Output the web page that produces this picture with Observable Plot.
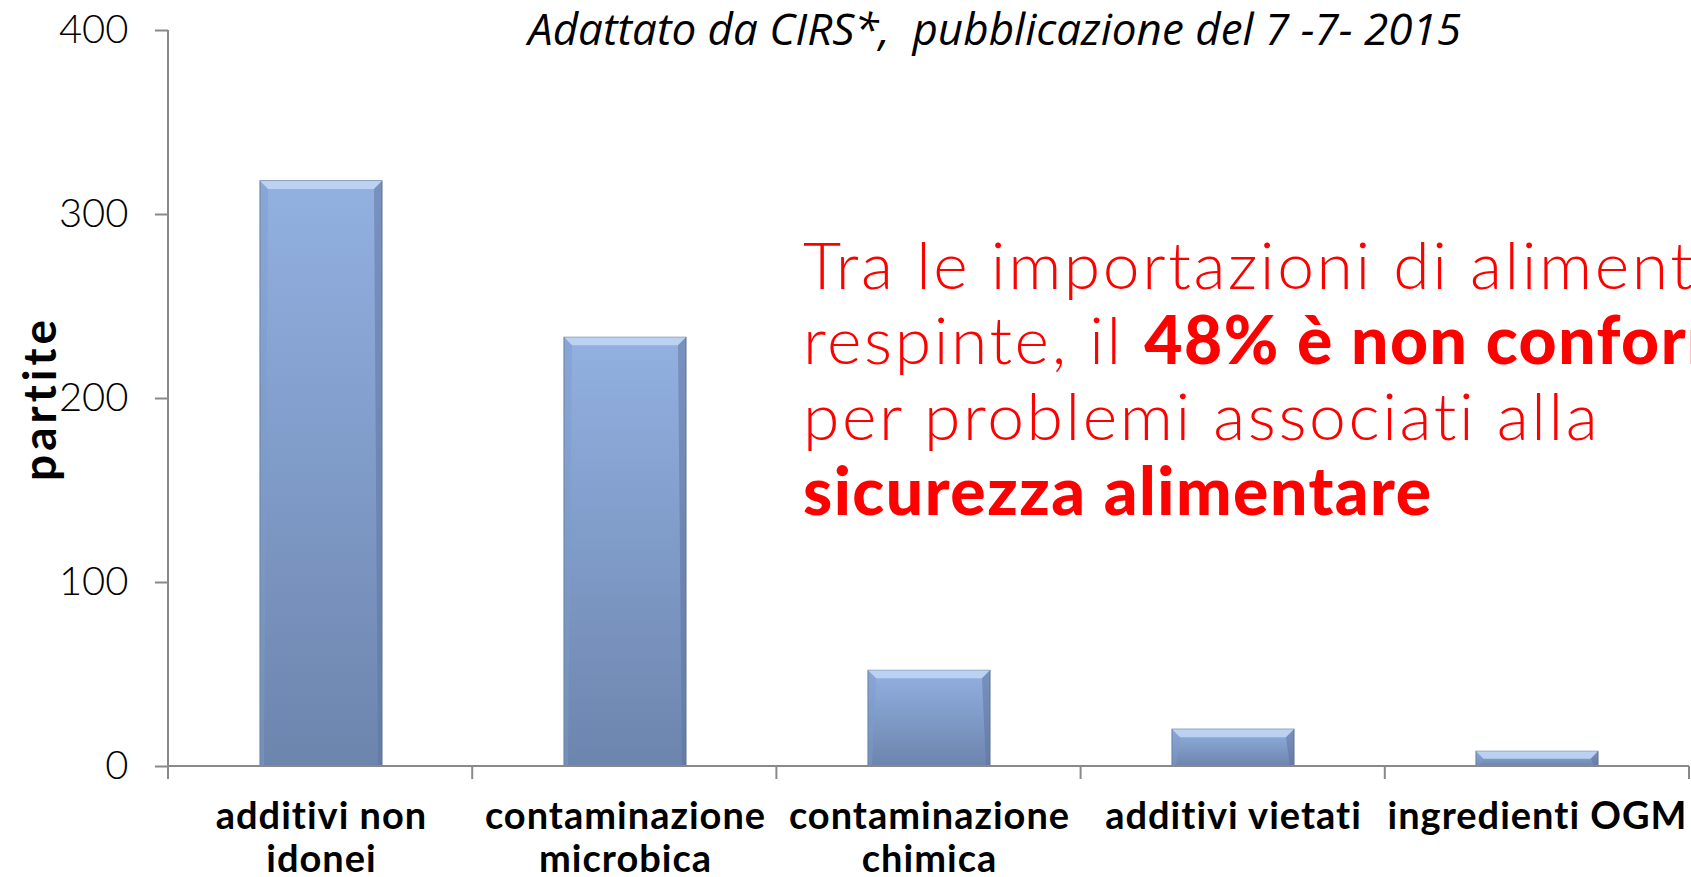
<!DOCTYPE html>
<html><head><meta charset="utf-8">
<script src="https://cdn.jsdelivr.net/npm/d3@7"></script>
<script src="https://cdn.jsdelivr.net/npm/@observablehq/plot@0.6"></script>
<style>
html,body{margin:0;padding:0;background:#fff;overflow:hidden;width:1691px;height:877px}
#wrap{position:relative;width:1691px;height:877px}
#title{position:absolute;left:528px;top:6px;font-family:"Open Sans";font-style:italic;font-size:44px;line-height:44px;white-space:nowrap;transform-origin:0 0;color:#000}
#note{position:absolute;left:803px;top:225.5px;font-family:Lato;font-weight:300;color:#ff0000;font-size:66px;letter-spacing:2.6px;white-space:nowrap}
#note div{height:75.5px;line-height:75.5px}
#note b{font-weight:900;letter-spacing:1.5px}
.xlab text{letter-spacing:1px}
.ylab text{letter-spacing:4px}
</style></head>
<body><div id="wrap"></div>
<script>
const categories = ["additivi non idonei","contaminazione microbica","contaminazione chimica","additivi vietati","ingredienti OGM"];
const values = [318, 233, 52, 20, 8];
const tickLabels = ["additivi non\nidonei","contaminazione\nmicrobica","contaminazione\nchimica","additivi vietati","ingredienti OGM"];
const yTicks = [0, 100, 200, 300, 400];
const yLabel = "partite";
const titleText = "Adattato da CIRS*,\u00a0 pubblicazione del 7 -7- 2015";
const noteLines = [
  [["Tra le importazioni di alimenti", false]],
  [["respinte, il ", false], ["48% è non conforme", true]],
  [["per problemi associati alla", false]],
  [["sicurezza alimentare", true]]
];

const data = categories.map((c, i) => ({cat: c, value: values[i]}));
const labelOf = new Map(categories.map((c, i) => [c, tickLabels[i]]));
const AXIS = "#898989";

function defsMark() {
  const defs = d3.create("svg:defs");
  const g = defs.append("linearGradient").attr("id", "barGrad").attr("x1", 0).attr("y1", 0).attr("x2", 0).attr("y2", 1);
  g.append("stop").attr("offset", "0%").attr("stop-color", "#92b0e1");
  g.append("stop").attr("offset", "100%").attr("stop-color", "#6c85ad");
  return defs.node();
}

function axisLines(index, scales, values, dim) {
  const g = d3.create("svg:g").attr("stroke", AXIS).attr("stroke-width", 2);
  const left = dim.marginLeft, right = dim.width - dim.marginRight;
  const top = dim.marginTop, bottom = dim.height - dim.marginBottom;
  g.append("line").attr("x1", left).attr("x2", left).attr("y1", top).attr("y2", bottom + 13);
  g.append("line").attr("x1", left).attr("x2", right).attr("y1", bottom).attr("y2", bottom);
  const step = (right - left) / categories.length;
  for (let k = 1; k <= categories.length; k++) {
    const x = left + k * step;
    g.append("line").attr("x1", x).attr("x2", x).attr("y1", bottom).attr("y2", bottom + 13);
  }
  return g.node();
}

function bevels(index, scales) {
  const g = d3.create("svg:g");
  const x = scales.x, y = scales.y;
  if (!x || typeof x.bandwidth !== "function") return g.node();
  const bw = x.bandwidth();
  const b = 8;
  for (const d of data) {
    const x0 = x(d.cat), x1 = x0 + bw, y0 = y(d.value), y1 = y(0);
    const bb = Math.min(b, (y1 - y0) / 2);
    g.append("polygon").attr("points", `${x0},${y0} ${x1},${y0} ${x1-bb},${y0+bb} ${x0+bb},${y0+bb}`).attr("fill", "#c3d8f6").attr("opacity", 0.85);
    g.append("polygon").attr("points", `${x1},${y0} ${x1},${y1} ${x1-bb/2},${y1} ${x1-bb},${y0+bb}`).attr("fill", "#5e7499").attr("opacity", 0.5);
    g.append("polygon").attr("points", `${x0},${y0} ${x0+bb},${y0+bb} ${x0+bb/2},${y1} ${x0},${y1}`).attr("fill", "#7f9bc8").attr("opacity", 0.45);
  }
  return g.node();
}

const chart = Plot.plot({
  width: 1691,
  height: 877,
  marginLeft: 168,
  marginRight: 2,
  marginTop: 30,
  marginBottom: 111,
  style: {fontFamily: "Lato", color: "#000", background: "#fff", overflow: "visible"},
  x: {domain: categories, paddingInner: 0.6, paddingOuter: 0.3, label: null},
  y: {domain: [0, 400], label: null},
  marks: [
    defsMark,
    Plot.barY(data, {x: "cat", y: "value", fill: "url(#barGrad)", stroke: "#5b7096", strokeWidth: 1}),
    bevels,
    axisLines,
    Plot.axisY({ticks: yTicks, tickSize: 13, tickPadding: 27, fontSize: 40, fontWeight: 300, stroke: AXIS, strokeWidth: 2, fill: "#000", label: null}),
    Plot.axisX({tickSize: 0, tickPadding: 32, fontSize: 38, fontWeight: 700, fill: "#000", lineHeight: 1.13, tickFormat: d => labelOf.get(d), label: null, className: "xlab"}),
    Plot.text([yLabel], {frameAnchor: "left", textAnchor: "middle", rotate: -90, dx: -127, fontSize: 46, fontWeight: 700, fill: "#000", className: "ylab"})
  ]
});

const wrap = document.getElementById("wrap");
wrap.appendChild(chart);

const title = document.createElement("div");
title.id = "title";
title.textContent = titleText;
wrap.appendChild(title);
const tw = title.getBoundingClientRect().width;
title.style.transform = `scaleX(${933 / tw})`;

const note = document.createElement("div");
note.id = "note";
for (const line of noteLines) {
  const div = document.createElement("div");
  for (const [txt, bold] of line) {
    const el = document.createElement(bold ? "b" : "span");
    el.textContent = txt;
    div.appendChild(el);
  }
  note.appendChild(div);
}
wrap.appendChild(note);
</script>
</body></html>
